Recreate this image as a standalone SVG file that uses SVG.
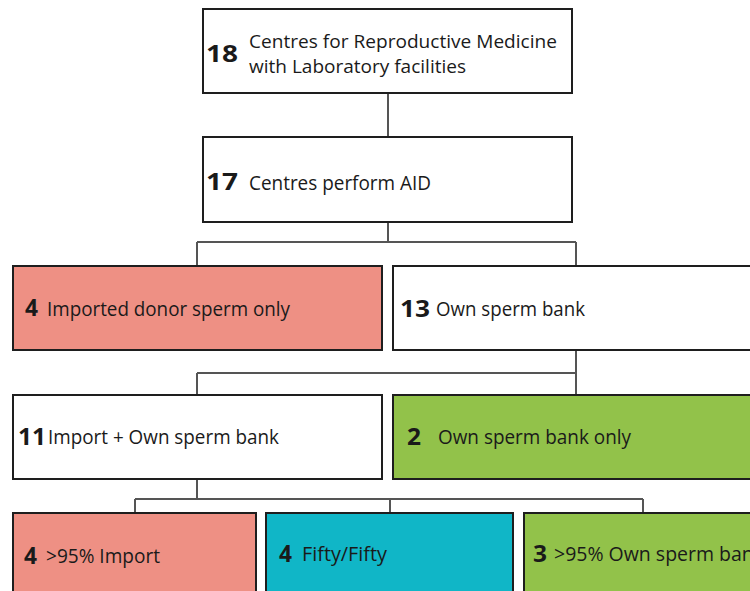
<svg xmlns="http://www.w3.org/2000/svg" width="750" height="591" viewBox="0 0 750 591">
<style>
.box{stroke:#1e1e1e;stroke-width:2}
.w{fill:#ffffff}.r{fill:#ee9084}.c{fill:#10b6c7}.g{fill:#92c24a}
.n{font-family:"Open Sans","Liberation Sans",sans-serif;font-weight:bold;font-size:23px;fill:#1a1a1a}
.t{font-family:"Open Sans","Liberation Sans",sans-serif;font-size:20px;fill:#1a1a1a}
.t2{font-family:"Open Sans","Liberation Sans",sans-serif;font-size:19px;fill:#1a1a1a}
.conn{fill:none;stroke:#555;stroke-width:2}
</style>
<rect width="750" height="591" fill="#fff"/>
<g id="connectors" class="conn">
<path d="M388 93V137"/>
<path d="M388 222V242M197 242H576M197 242V266M576 242V266"/>
<path d="M576 350V373M197 373H576M197 373V395M576 373V395"/>
<path d="M197 479V499M135 499H643M135 499V513M390 499V513M643 499V513"/>
</g>
<g id="n18">
<rect class="box w" x="203" y="9" width="369" height="84"/>
<text class="n" x="206" y="62" textLength="32" lengthAdjust="spacingAndGlyphs">18</text>
<text class="t2" x="249" y="48" textLength="308" lengthAdjust="spacingAndGlyphs">Centres for Reproductive Medicine</text>
<text class="t2" x="249" y="73" textLength="217" lengthAdjust="spacingAndGlyphs">with Laboratory facilities</text>
</g>
<g id="n17">
<rect class="box w" x="203" y="137" width="369" height="85"/>
<text class="n" x="206" y="190" textLength="32" lengthAdjust="spacingAndGlyphs">17</text>
<text class="t" x="249" y="190" textLength="182" lengthAdjust="spacingAndGlyphs">Centres perform AID</text>
</g>
<g id="n4import">
<rect class="box r" x="13" y="266" width="369" height="84"/>
<text class="n" x="25" y="316" textLength="13" lengthAdjust="spacingAndGlyphs">4</text>
<text class="t" x="47" y="316" textLength="243" lengthAdjust="spacingAndGlyphs">Imported donor sperm only</text>
</g>
<g id="n13">
<rect class="box w" x="393" y="266" width="370" height="84"/>
<text class="n" x="400" y="317" textLength="30" lengthAdjust="spacingAndGlyphs">13</text>
<text class="t" x="436" y="316" textLength="149" lengthAdjust="spacingAndGlyphs">Own sperm bank</text>
</g>
<g id="n11">
<rect class="box w" x="13" y="395" width="369" height="84"/>
<text class="n" x="18" y="445" textLength="28" lengthAdjust="spacingAndGlyphs">11</text>
<text class="t" x="48" y="444" textLength="231" lengthAdjust="spacingAndGlyphs">Import + Own sperm bank</text>
</g>
<g id="n2">
<rect class="box g" x="393" y="395" width="370" height="84"/>
<text class="n" x="407" y="445" textLength="14" lengthAdjust="spacingAndGlyphs">2</text>
<text class="t" x="438" y="444" textLength="193" lengthAdjust="spacingAndGlyphs">Own sperm bank only</text>
</g>
<g id="n4pct">
<rect class="box r" x="13" y="513" width="243" height="90"/>
<text class="n" x="24" y="564" textLength="13" lengthAdjust="spacingAndGlyphs">4</text>
<text class="t" x="46" y="563" textLength="114" lengthAdjust="spacingAndGlyphs">&gt;95% Import</text>
</g>
<g id="n4fifty">
<rect class="box c" x="266" y="513" width="247" height="90"/>
<text class="n" x="279" y="562" textLength="13" lengthAdjust="spacingAndGlyphs">4</text>
<text class="t" x="302" y="561" textLength="85" lengthAdjust="spacingAndGlyphs">Fifty/Fifty</text>
</g>
<g id="n3">
<rect class="box g" x="524" y="513" width="240" height="90"/>
<text class="n" x="533" y="562" textLength="14" lengthAdjust="spacingAndGlyphs">3</text>
<text class="t" x="554" y="561" textLength="210" lengthAdjust="spacingAndGlyphs">&gt;95% Own sperm bank</text>
</g>
</svg>
